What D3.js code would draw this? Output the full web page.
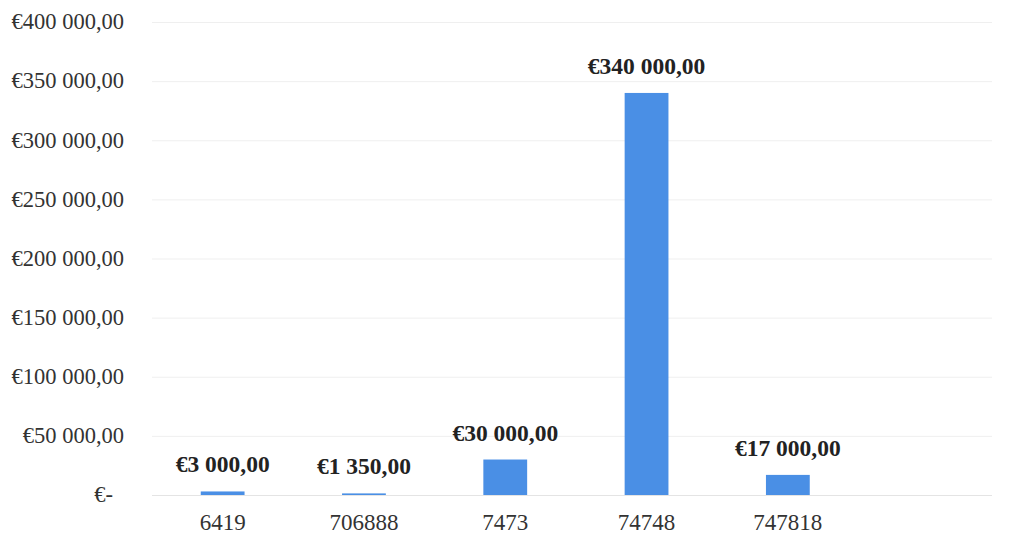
<!DOCTYPE html>
<html><head><meta charset="utf-8">
<script src="https://cdn.jsdelivr.net/npm/d3@7"></script>
<style>body{margin:0;background:#fff}svg{display:block}</style>
</head><body>
<svg id="c" width="1025" height="551"></svg>
<script>
const categories = ["6419", "706888", "7473", "74748", "747818"];
const values = [3000, 1350, 30000, 340000, 17000];
const dataLabels = ["€3 000,00", "€1 350,00", "€30 000,00", "€340 000,00", "€17 000,00"];
const yTicks = [0, 50000, 100000, 150000, 200000, 250000, 300000, 350000, 400000];
const yTickLabels = ["€-", "€50 000,00", "€100 000,00", "€150 000,00", "€200 000,00", "€250 000,00", "€300 000,00", "€350 000,00", "€400 000,00"];

(function () {
const svg = d3.select("#c");
const pLeft = 152, pRight = 992, pTop = 22, pBottom = 495;
const band = 141.3;
const x = d3.scaleBand().domain(categories).range([pLeft, pLeft + band * categories.length]).paddingInner(0.69).paddingOuter(0.345);
const y = d3.scaleLinear().domain([0, 400000]).range([pBottom, pTop]);
const font = "'Liberation Serif', serif";

// gridlines
svg.append("g").selectAll("line").data(yTicks).join("line")
  .attr("x1", pLeft).attr("x2", pRight)
  .attr("y1", d => y(d) + 0.5).attr("y2", d => y(d) + 0.5)
  .attr("stroke", d => d === 0 ? "#e4e4e4" : "#efefef").attr("stroke-width", 1);

// y axis labels
const yAxis = d3.axisLeft(y).tickValues(yTicks).tickSize(0).tickPadding(0)
  .tickFormat((d, i) => yTickLabels[i]);
const ga = svg.append("g").attr("transform", "translate(124,0)").call(yAxis);
ga.select(".domain").remove();
ga.selectAll("text").attr("font-family", font).attr("font-size", 22.5).attr("fill", "#333")
  .attr("dx", d => d === 0 ? -11 : 0).attr("dy", "0.3em");

// bars
svg.append("g").selectAll("rect").data(categories).join("rect")
  .attr("x", d => x(d)).attr("width", x.bandwidth())
  .attr("y", (d, i) => y(values[i])).attr("height", (d, i) => pBottom - y(values[i]))
  .attr("fill", "#4a8fe5");

// data labels
svg.append("g").selectAll("text").data(categories).join("text")
  .attr("x", d => x(d) + x.bandwidth() / 2)
  .attr("y", (d, i) => y(values[i]) - 19)
  .attr("text-anchor", "middle").attr("font-family", font).attr("font-weight", "bold")
  .attr("font-size", 23.5).attr("fill", "#222").text((d, i) => dataLabels[i]);

// x axis labels
const xAxis = d3.axisBottom(x).tickSize(0).tickPadding(0);
const gx = svg.append("g").attr("transform", `translate(0,${pBottom})`).call(xAxis);
gx.select(".domain").remove();
gx.selectAll("text").attr("font-family", font).attr("font-size", 23).attr("fill", "#333")
  .attr("dy", 0).attr("y", 35);
})();
</script>
</body></html>
